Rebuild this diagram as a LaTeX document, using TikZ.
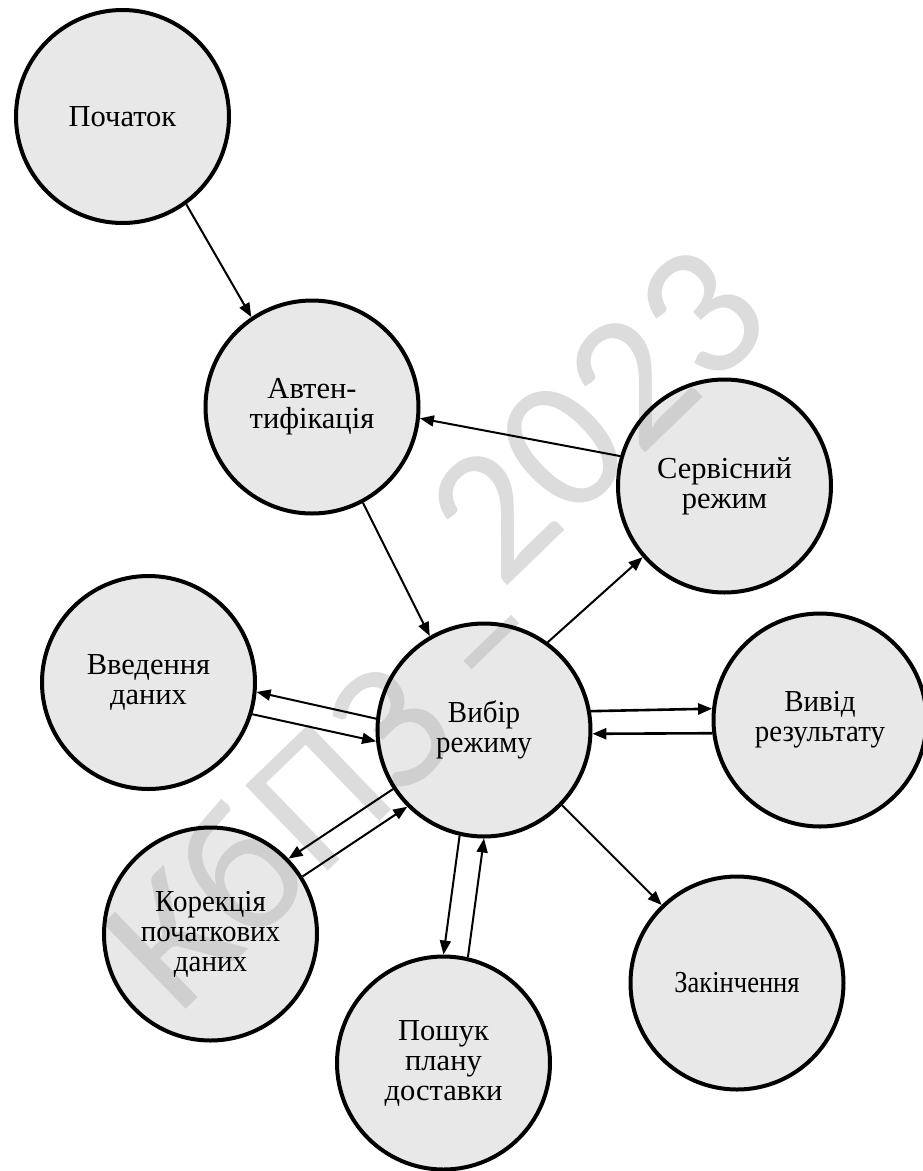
\documentclass[tikz,border=0pt]{standalone}
\usepackage{fontspec}
\setmainfont{Liberation Serif}
\newfontfamily\wmfont{Carlito}
\newfontfamily\narrowA{Liberation Serif}[FakeStretch=0.95]
\newfontfamily\narrowB{Liberation Serif}[FakeStretch=0.87]
\usetikzlibrary{arrows.meta}
\definecolor{statefill}{RGB}{232,232,232}
\definecolor{wmlight}{RGB}{220,220,220}
\definecolor{wmdark}{RGB}{207,207,207}

\pgfdeclarelayer{discs}
\pgfdeclarelayer{stamplayer}
\pgfsetlayers{discs,stamplayer,main}

\begin{document}
\begin{tikzpicture}[x=1pt,y=-1pt,
  state/.style={circle, draw=black, line width=4pt,
    minimum size=213pt, inner sep=0pt, align=center,
    font=\rmfamily\fontsize{30.5}{30}\selectfont},
  disc/.style={fill=statefill},
  link/.style={line width=2pt, -{Triangle[length=14pt,width=11pt]}},
  widelink/.style={link, line width=2.6pt},
  stampA/.style={inner sep=0pt, rotate=44, anchor=base east,
    font=\wmfont\fontsize{185}{185}\selectfont},
  stampB/.style={inner sep=0pt, rotate=44, anchor=base west,
    font=\wmfont\fontsize{190}{190}\selectfont}]
\useasboundingbox (0,0) rectangle (923,1171);

% states: outline and label
\node[state] (start)  at (122.5,116.5) {Початок};
\node[state] (auth)   at (312,407)     {Автен-\\тифікація};
\node[state] (serv)   at (724.5,486)   {Сервісний\\режим};
\node[state] (input)  at (148.5,682.5) {Введення\\даних};
\node[state] (choice) at (484,730)     {\narrowA Вибір\\\narrowA режиму};
\node[state] (output) at (820,720)     {\narrowA Вивід\\\narrowA результату};
\node[state] (corr)   at (210.5,934)   {\narrowA Корекція\\\narrowA початкових\\\narrowA даних};
\node[state] (search) at (443.5,1063)  {Пошук\\плану\\доставки};
\node[state] (finish) at (737,983)     {\narrowB Закінчення};

% grey discs underneath
\begin{pgfonlayer}{discs}
  \foreach \n in {start,auth,serv,input,choice,output,corr,search,finish}
    \fill[disc] (\n.center) circle[radius=106.5pt];
\end{pgfonlayer}

% stamp between the discs and the outlines
\begin{pgfonlayer}{stamplayer}
  \node[stampA, text=wmlight] (markA) at (561,647) {КбПЗ –};
  \node[stampB, text=wmlight] (markB) at (501,592) {2023};
  \begin{scope}
    \clip (start.center) circle[radius=106.5pt]
          (auth.center) circle[radius=106.5pt]
          (serv.center) circle[radius=106.5pt]
          (input.center) circle[radius=106.5pt]
          (choice.center) circle[radius=106.5pt]
          (output.center) circle[radius=106.5pt]
          (corr.center) circle[radius=106.5pt]
          (search.center) circle[radius=106.5pt]
          (finish.center) circle[radius=106.5pt];
    \node[stampA, text=wmdark] (markAin) at (561,647) {КбПЗ –};
    \node[stampB, text=wmdark] (markBin) at (501,592) {2023};
  \end{scope}
\end{pgfonlayer}

% transitions
\draw[link] (start.-54.8) -- (auth.124.1);
\draw[link] (serv.164.7) -- (auth.-6.2);
\draw[link] (auth.-62.2) -- (choice.120.5);
\draw[link] (choice.54.1) -- (serv.221.3);
\draw[link] (choice.174.2) -- (input.-5.3);
\draw[link] (input.-17.3) -- (choice.186.5);
\draw[link] (choice.213.3) -- (corr.44.8);
\draw[link] (corr.32.4) -- (choice.225);
\draw[link] (choice.257) -- (search.90.3);
\draw[link] (search.77.5) -- (choice.-90);
\draw[widelink] (choice.10.5) -- (output.174.8);
\draw[widelink] (output.187.3) -- (choice.-2.1);
\draw[link] (choice.-44.6) -- (finish.134.6);
\end{tikzpicture}
\end{document}
